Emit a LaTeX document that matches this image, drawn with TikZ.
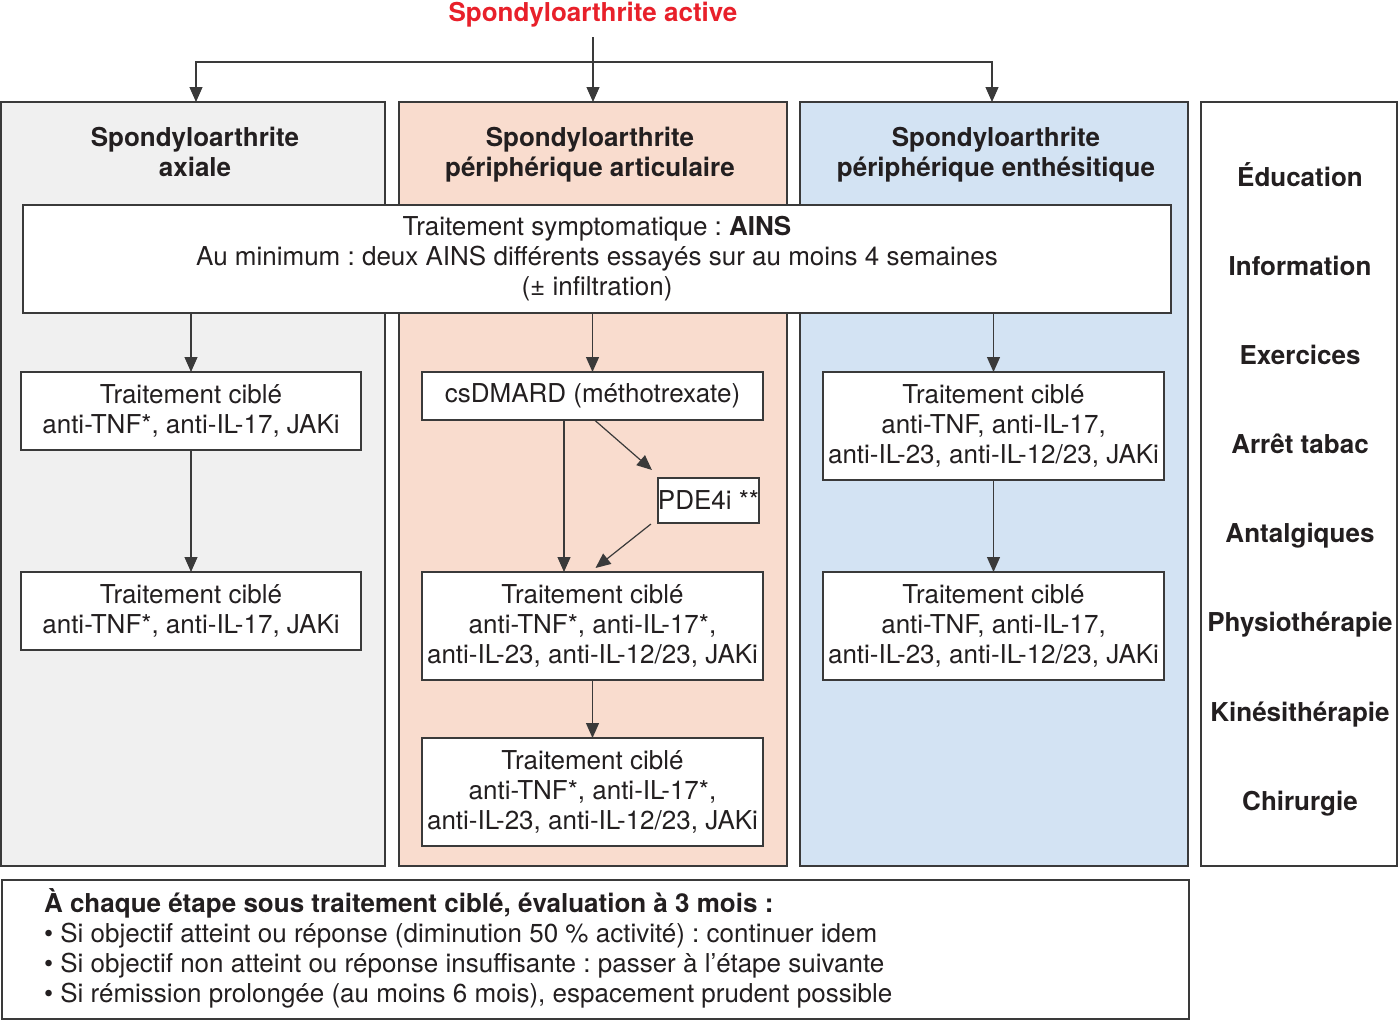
\documentclass[tikz,border=0pt]{standalone}
\usepackage{fontspec}
\setmainfont{TeX Gyre Heros}
\usetikzlibrary{arrows.meta,calc}
\definecolor{ink}{HTML}{231F20}
\definecolor{edge}{HTML}{3A3A3A}
\definecolor{axfill}{HTML}{F0F0F0}
\definecolor{arfill}{HTML}{F9DCCE}
\definecolor{enfill}{HTML}{D3E3F3}
\definecolor{titlered}{HTML}{E8202A}
\frenchspacing
\begin{document}
\begin{tikzpicture}[x=1pt,y=-1pt,
  every node/.style={text=ink, inner sep=0pt, outer sep=0pt},
  col/.style={draw=edge, line width=1.2pt, rectangle, anchor=north west},
  tbox/.style={draw=edge, line width=1.2pt, fill=white, rectangle, align=center,
    font=\fontsize{26}{30}\selectfont\frenchspacing},
  head/.style={align=center, text depth=0pt, font=\fontsize{26}{30}\selectfont\bfseries},
  side/.style={text height=19pt, text depth=0pt, font=\fontsize{26}{30}\selectfont\bfseries},
  arr/.style={draw=edge, line width=1.2pt, -{Triangle[width=13pt,length=15pt]}},
  ln/.style={draw=edge, line width=1.2pt}]
\useasboundingbox (0,0) rectangle (1400,1020);
% columns
\node[col, fill=axfill, minimum width=384pt, minimum height=764pt] (axcol) at (1,102) {};
\node[col, fill=arfill, minimum width=388pt, minimum height=764pt] (arcol) at (399,102) {};
\node[col, fill=enfill, minimum width=388pt, minimum height=764pt] (encol) at (800,102) {};
\node[col, fill=white, minimum width=196pt, minimum height=764pt] (sidecol) at (1201,102) {};
% title
\node[font=\fontsize{26}{30}\selectfont\bfseries, text=titlered] (title) at (593,15) {Spondyloarthrite active};
\coordinate (split) at (593,62);
\coordinate (tstart) at (593,37);
\draw[ln] (tstart) -- (split);
\draw[arr] (split) -- (split |- arcol.north);
\draw[arr] (split) -| ($(axcol.north)+(3,0)$);
\draw[arr] (split) -| ($(encol.north)+(-2,0)$);
% headers
\node[head] (axhead) at (195,152) {Spondyloarthrite\\axiale};
\node[head] (arhead) at (590,152) {Spondyloarthrite\\périphérique articulaire};
\node[head] (enhead) at (996,152) {Spondyloarthrite\\périphérique enthésitique};
% AINS
\node[tbox, minimum width=1148pt, minimum height=108pt] (ains) at (597,259)
  {Traitement symptomatique : \textbf{AINS}\\Au minimum : deux AINS différents essayés sur au moins 4 semaines\\(± infiltration)};
% axial
\node[tbox, minimum width=340pt, minimum height=78pt] (ax1) at (191,411) {Traitement ciblé\\anti-TNF*, anti-IL-17, JAKi};
\node[tbox, minimum width=340pt, minimum height=78pt] (ax2) at (191,611) {Traitement ciblé\\anti-TNF*, anti-IL-17, JAKi};
% articular
\node[tbox, minimum width=341pt, minimum height=48pt] (csd) at (592.5,396) {csDMARD (méthotrexate)};
\node[tbox, minimum width=99pt, minimum height=45pt] (pde) at (708.5,500.5) {PDE4i **};
\node[tbox, minimum width=341pt, minimum height=108pt] (ar1) at (592.5,626) {Traitement ciblé\\anti-TNF*, anti-IL-17*,\\anti-IL-23, anti-IL-12/23, JAKi};
\node[tbox, minimum width=341pt, minimum height=108pt] (ar2) at (592.5,792) {Traitement ciblé\\anti-TNF*, anti-IL-17*,\\anti-IL-23, anti-IL-12/23, JAKi};
% enthesitic
\node[tbox, minimum width=341pt, minimum height=108pt] (en1) at (993.5,426) {Traitement ciblé\\anti-TNF, anti-IL-17,\\anti-IL-23, anti-IL-12/23, JAKi};
\node[tbox, minimum width=341pt, minimum height=108pt] (en2) at (993.5,626) {Traitement ciblé\\anti-TNF, anti-IL-17,\\anti-IL-23, anti-IL-12/23, JAKi};
% arrows
\draw[arr] (ains.south -| ax1.north) -- (ax1.north);
\draw[arr] (ains.south -| csd.north) -- (csd.north);
\draw[arr] (ains.south -| en1.north) -- (en1.north);
\draw[arr] (ax1) -- (ax2);
\draw[arr] ([xshift=-28.5pt]csd.south) -- ([xshift=-28.5pt]csd.south |- ar1.north);
\draw[arr] ($(csd.south)+(2,0)$) -- ($(pde.north west)+(-6,-8)$);
\draw[arr] ($(pde.south west)+(-7,1)$) -- ($(ar1.north)+(3,-4)$);
\draw[arr] (ar1) -- (ar2);
\draw[arr] (en1) -- (en2);
% side labels
\node[side] (s1) at (1300,177) {Éducation};
\node[side] (s2) at (1300,266) {Information};
\node[side] (s3) at (1300,355) {Exercices};
\node[side] (s4) at (1300,444) {Arrêt tabac};
\node[side] (s5) at (1300,533) {Antalgiques};
\node[side] (s6) at (1300,622) {Physiothérapie};
\node[side] (s7) at (1300,711.5) {Kinésithérapie};
\node[side] (s8) at (1300,800.5) {Chirurgie};
% bottom
\node[col, fill=white, minimum width=1187pt, minimum height=139pt] (bottom) at (2,880) {};
\node[anchor=west, align=left, font=\fontsize{26}{30}\selectfont\frenchspacing] (btext) at (44,948)
  {{\bfseries À chaque étape sous traitement ciblé, évaluation à 3 mois :}\\
   • Si objectif atteint ou réponse (diminution 50 \% activité) : continuer idem\\
   • Si objectif non atteint ou réponse insuffisante : passer à l’étape suivante\\
   • Si rémission prolongée (au moins 6 mois), espacement prudent possible};
\end{tikzpicture}
\end{document}
